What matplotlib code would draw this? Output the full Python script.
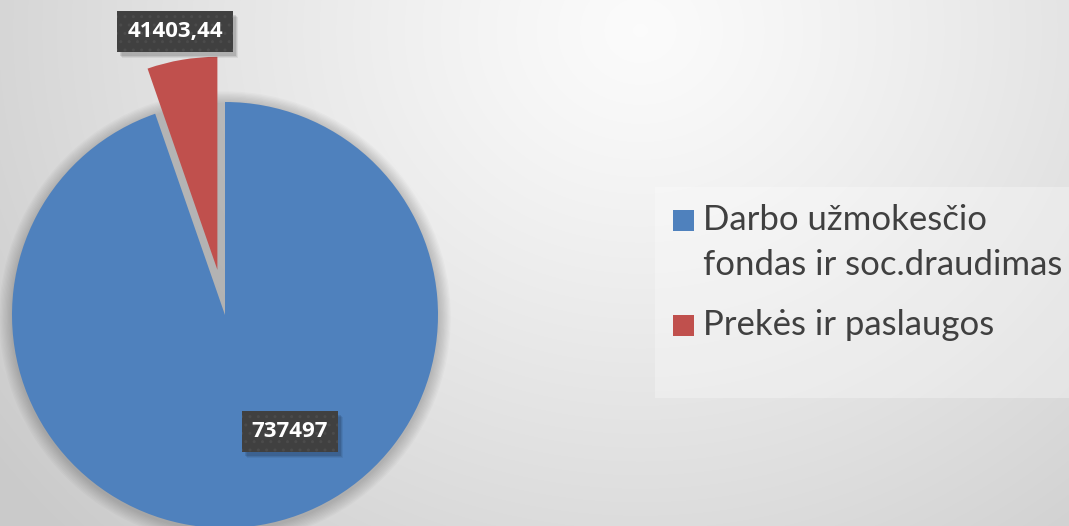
import numpy as np
import matplotlib
matplotlib.use("Agg")
import matplotlib.pyplot as plt
from matplotlib.patches import Rectangle
from matplotlib.transforms import IdentityTransform

# ---- data ----
categories = ["Darbo užmokesčio\nfondas ir soc.draudimas", "Prekės ir paslaugos"]
values = [737497, 41403.44]
value_labels = ["737497", "41403,44"]
colors = ["#4F81BD", "#C0504D"]
explode = [0.0, 0.215]

W, H, DPI = 1069, 526, 100
fig = plt.figure(figsize=(W / DPI, H / DPI), dpi=DPI)

# background gradient
bg = fig.add_axes([0, 0, 1, 1])
yy, xx = np.mgrid[0:H, 0:W]
d = np.sqrt(((xx - 640) / 1.0) ** 2 + ((yy - 30) / 0.9) ** 2)
t = np.clip(d / 800.0, 0, 1)
val = 0.985 - 0.19 * t ** 1.2
bg.imshow(np.dstack([val, val, val]), extent=[0, 1, 0, 1], aspect="auto", origin="upper")
bg.set_axis_off()

# pie axes: centre (225, 315) px from top, radius 213 px
R = 213
cx, cy = 225, H - 315
ax = fig.add_axes([(cx - R) / W, (cy - R) / H, 2 * R / W, 2 * R / H])

# soft shadow
for k in range(10):
    c = plt.Circle((0.0, -0.01), 1.0 + 0.006 * (k + 1), color="black", alpha=0.018, lw=0,
                   clip_on=False, zorder=0)
    ax.add_patch(c)

wedges, _ = ax.pie(values, colors=colors, startangle=90, counterclock=False,
                   explode=explode, radius=1.0, wedgeprops=dict(linewidth=0))
for w in wedges:
    w.set_clip_on(False)
    w.set_zorder(2)
ax.set_xlim(-1, 1)
ax.set_ylim(-1, 1)
ax.set_axis_off()

# data labels
label_pos = [(0.305, -0.549), (-0.235, 1.333)]
label_texts = []
for (x, y), lab in zip(label_pos, value_labels):
    tx = ax.text(x, y, lab, ha="center", va="center", fontsize=16, family="Open Sans",
                 weight="bold", color="white", zorder=5, clip_on=False,
                 bbox=dict(boxstyle="square,pad=0.45", fc="#404040", ec="#4b4b4b", lw=0,
                           hatch=".."))
    label_texts.append(tx)

fig.canvas.draw()
for tx in label_texts:
    bb = tx.get_bbox_patch().get_window_extent()
    for k, a in enumerate([0.10, 0.08, 0.06]):
        ax.add_patch(Rectangle((bb.x0 + 3 + k, bb.y0 - 4 - k), bb.width, bb.height,
                               transform=IdentityTransform(), fc="black", alpha=a,
                               ec="none", zorder=4, clip_on=False))

# legend box (drawn manually to match the reference layout)
fig.patches.append(Rectangle((655 / W, 1 - 398 / H), (W - 655) / W, (398 - 187) / H,
                             transform=fig.transFigure, fc="white", alpha=0.3, ec="none",
                             zorder=1))
first_baselines = [230, 335]
line_step = 45
for cat, col, yb in zip(categories, colors, first_baselines):
    fig.patches.append(Rectangle((673 / W, 1 - (yb + 0.5) / H), 21 / W, 21 / H,
                                 transform=fig.transFigure, fc=col, ec="none", zorder=2))
    for i, line in enumerate(cat.split("\n")):
        fig.text(703 / W, 1 - (yb + i * line_step) / H, line, ha="left", va="baseline",
                 family="Lato", fontsize=25, color="#404040", zorder=3)

fig.savefig("out.png", dpi=DPI)
